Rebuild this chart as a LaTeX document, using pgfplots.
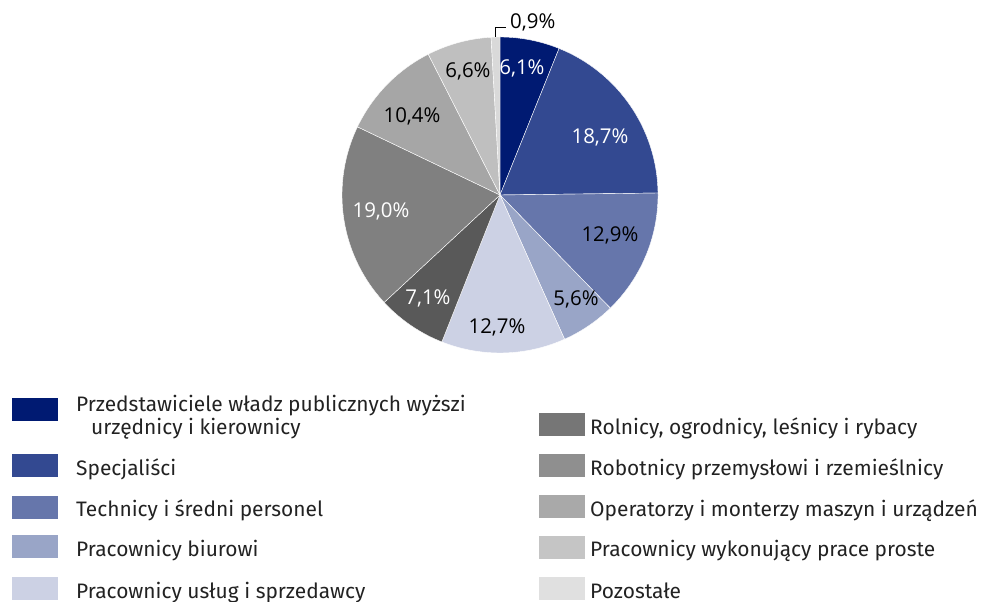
\documentclass[border=0pt]{standalone}
\usepackage{pgfplots}
\pgfplotsset{compat=1.18}
\usepackage{fontspec}
\setmainfont{Fira Sans}
\newfontfamily\labfont{Open Sans}
\definecolor{c1}{RGB}{0,26,114}
\definecolor{c2}{RGB}{51,73,145}
\definecolor{c3}{RGB}{102,118,171}
\definecolor{c4}{RGB}{153,165,199}
\definecolor{c5}{RGB}{204,209,228}
\definecolor{g1}{RGB}{89,89,89}
\definecolor{g2}{RGB}{128,128,128}
\definecolor{g3}{RGB}{166,166,166}
\definecolor{g4}{RGB}{191,191,191}
\definecolor{g5}{RGB}{217,217,217}
\definecolor{l1}{RGB}{118,118,118}
\definecolor{l2}{RGB}{143,143,143}
\definecolor{l3}{RGB}{169,169,169}
\definecolor{l4}{RGB}{197,197,197}
\definecolor{l5}{RGB}{224,224,224}
\definecolor{txt}{RGB}{34,34,34}
\newcommand\slice[3]{\addplot[fill=#3, draw=white, line width=0.4pt, domain=#1:#2, samples=60] ({cos(x)},{sin(x)}) -- (axis cs:0,0) -- cycle;}
\newcommand\legbox[3]{\fill[#3] (#1bp,#2bp) rectangle ++(46bp,23bp);}
\begin{document}
\begin{tikzpicture}
\useasboundingbox (0,0) rectangle (990bp,602bp);
\begin{axis}[at={(500bp,407bp)}, anchor=center, scale only axis,
  width=316bp, height=316bp, xmin=-1, xmax=1, ymin=-1, ymax=1,
  hide axis, clip=false]
% values (%): 6.1, 18.7, 12.9, 5.6, 12.7, 7.1, 19.0, 10.4, 6.6, 0.9 -- clockwise from top
\slice{68.04}{90}{c1}
\slice{0.72}{68.04}{c2}
\slice{-45.72}{0.72}{c3}
\slice{-65.88}{-45.72}{c4}
\slice{-111.6}{-65.88}{c5}
\slice{-137.16}{-111.6}{g1}
\slice{-205.56}{-137.16}{g2}
\slice{-243}{-205.56}{g3}
\slice{-266.76}{-243}{g4}
\slice{-270}{-266.76}{g5}
\addplot[black, line width=1pt] coordinates {(-0.030,1.0) (-0.030,1.057) (0.035,1.057)};
\addplot[draw=none, nodes near coords, point meta=explicit symbolic,
  nodes near coords style={anchor=center, text=white, font=\labfont\fontsize{20.5}{24}\selectfont}]
  coordinates {(0.139,0.804) [6,1\%] (0.633,0.367) [18,7\%] (-0.456,-0.652) [7,1\%] (-0.753,-0.101) [19,0\%]};
\addplot[draw=none, nodes near coords, point meta=explicit symbolic,
  nodes near coords style={anchor=center, text=black, font=\labfont\fontsize{20.5}{24}\selectfont}]
  coordinates {(0.696,-0.253) [12,9\%] (0.481,-0.658) [5,6\%] (-0.019,-0.835) [12,7\%] (-0.557,0.5) [10,4\%] (-0.203,0.785) [6,6\%]};
\addplot[draw=none, nodes near coords, point meta=explicit symbolic,
  nodes near coords style={anchor=west, text=black, inner sep=0pt, font=\labfont\fontsize{20.5}{24}\selectfont}]
  coordinates {(0.063,1.095) [0,9\%]};
\end{axis}
\begin{scope}[every node/.style={anchor=base west, inner sep=0pt, text=txt, font=\fontsize{21}{25}\selectfont}]
\legbox{12}{181}{c1}
\node at (76bp,190bp) {Przedstawiciele władz publicznych wyższi};
\node at (91bp,167bp) {urzędnicy i kierownicy};
\legbox{12}{125}{c2}
\node at (76bp,126bp) {Specjaliści};
\legbox{12}{83}{c3}
\node at (76bp,85bp) {Technicy i średni personel};
\legbox{12}{44}{c4}
\node at (76bp,45bp) {Pracownicy biurowi};
\legbox{12}{2}{c5}
\node at (76bp,4bp) {Pracownicy usług i sprzedawcy};
\legbox{539}{166}{l1}
\node at (590bp,167bp) {Rolnicy, ogrodnicy, leśnicy i rybacy};
\legbox{539}{125}{l2}
\node at (590bp,126bp) {Robotnicy przemysłowi i rzemieślnicy};
\legbox{539}{84}{l3}
\node at (590bp,85bp) {Operatorzy i monterzy maszyn i urządzeń};
\legbox{539}{43}{l4}
\node at (590bp,45bp) {Pracownicy wykonujący prace proste};
\legbox{539}{2}{l5}
\node at (590bp,4bp) {Pozostałe};
\end{scope}
\end{tikzpicture}
\end{document}
